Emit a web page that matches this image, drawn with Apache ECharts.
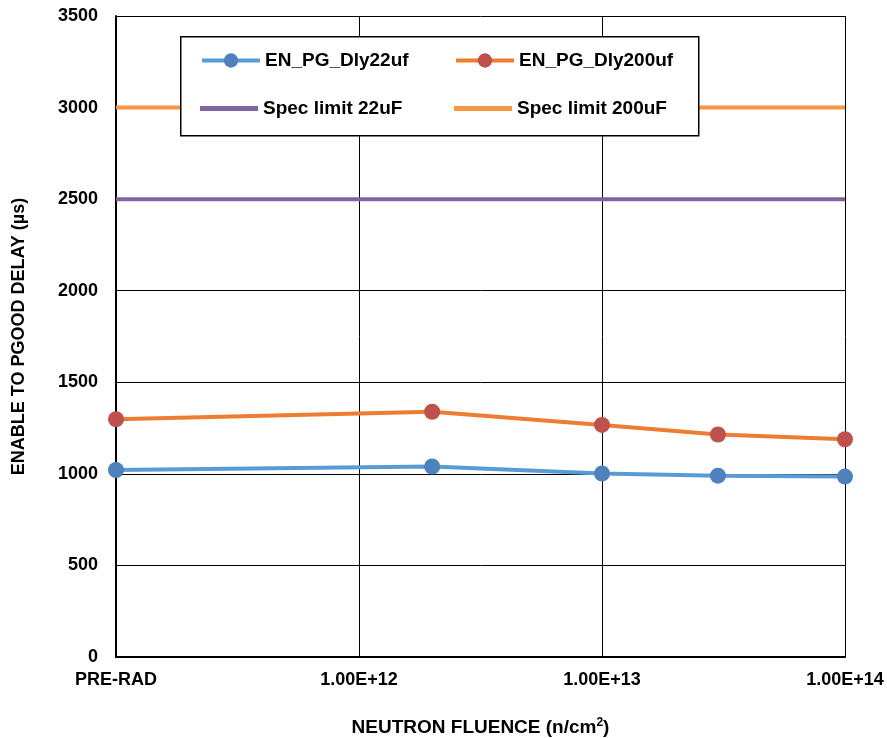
<!DOCTYPE html>
<html>
<head>
<meta charset="utf-8">
<script src="https://cdn.jsdelivr.net/npm/echarts@6/dist/echarts.min.js"></script>
<style>html,body{margin:0;padding:0;background:#fff}#c{width:887px;height:738px}</style>
</head>
<body>
<div id="c"></div>
<script>
var fluence = [1e11, 2e12, 1e13, 3e13, 1e14];
var dly22 = [1021, 1040, 1002, 990, 985];
var dly200 = [1298, 1339, 1267, 1215, 1189];
var specX = [1e11, 1e14];
var spec22 = [2500, 2500];
var spec200 = [3000, 3000];
var yTicks = [0, 500, 1000, 1500, 2000, 2500, 3000, 3500];
var seriesNames = ['EN_PG_Dly22uf', 'EN_PG_Dly200uf', 'Spec limit 22uF', 'Spec limit 200uF'];

var font = 'Liberation Sans, Arial, sans-serif';
function pairs(xs, ys) { return xs.map(function (x, i) { return [x, ys[i]]; }); }
function xLabel(v) {
  var e = Math.round(Math.log10(v));
  if (e === 11) return 'PRE-RAD';
  return '1.00E+' + e;
}
var legendPos = [
  {left: 200, top: 51, h: 18, icon: null},
  {left: 454, top: 51, h: 18, icon: null},
  {left: 200, top: 99, h: 5, icon: 'rect'},
  {left: 454, top: 99, h: 5, icon: 'rect'}
];
var chart = echarts.init(document.getElementById('c'));
chart.setOption({
  animation: false,
  backgroundColor: '#fff',
  grid: {left: 116, right: 42, top: 16, bottom: 81, containLabel: false, outerBoundsMode: 'none'},
  graphic: [{
    type: 'rect', z: 3, left: 180, top: 36,
    shape: {width: 518, height: 99},
    style: {fill: '#fff', stroke: '#000', lineWidth: 1.5}
  }],
  legend: seriesNames.map(function (n, i) {
    var p = legendPos[i];
    var d = {name: n};
    if (p.icon) d.icon = p.icon;
    return {
      data: [d], left: p.left, top: p.top, z: 5, padding: 0,
      itemWidth: 58, itemHeight: p.h, itemGap: 5,
      lineStyle: {width: 4},
      textStyle: {fontFamily: font, fontWeight: 'bold', fontSize: 19, color: '#000'}
    };
  }),
  xAxis: {
    type: 'log', logBase: 10, min: 1e11, max: 1e14,
    name: 'NEUTRON FLUENCE (n/cm{sup|2})', nameLocation: 'middle', nameGap: 60,
    nameTextStyle: {fontFamily: font, fontWeight: 'bold', fontSize: 19, color: '#000',
      rich: {sup: {fontFamily: font, fontWeight: 'bold', fontSize: 12, verticalAlign: 'top', padding: [0, 0, 9, 0]}}},
    axisLine: {lineStyle: {color: '#000', width: 2}},
    axisTick: {show: false},
    minorTick: {show: false},
    splitLine: {show: true, lineStyle: {color: '#000', width: 1}},
    axisLabel: {formatter: xLabel, margin: 14, fontFamily: font, fontWeight: 'bold', fontSize: 18, color: '#000', showMaxLabel: true, showMinLabel: true}
  },
  yAxis: {
    type: 'value', min: yTicks[0], max: yTicks[yTicks.length - 1], interval: 500,
    name: 'ENABLE TO PGOOD DELAY (µs)', nameLocation: 'middle', nameGap: 88,
    nameTextStyle: {fontFamily: font, fontWeight: 'bold', fontSize: 18, color: '#000'},
    axisLine: {show: true, lineStyle: {color: '#000', width: 2}},
    axisTick: {show: false},
    splitLine: {show: true, lineStyle: {color: '#000', width: 1}},
    axisLabel: {margin: 18, formatter: function (v) { return String(v); }, fontFamily: font, fontWeight: 'bold', fontSize: 18, color: '#000'}
  },
  series: [
    {name: seriesNames[0], type: 'line', data: pairs(fluence, dly22), symbol: 'circle', symbolSize: 16,
      lineStyle: {color: '#5B9BD5', width: 4}, itemStyle: {color: '#4F81BD'}, z: 4},
    {name: seriesNames[1], type: 'line', data: pairs(fluence, dly200), symbol: 'circle', symbolSize: 16,
      lineStyle: {color: '#ED7D31', width: 4}, itemStyle: {color: '#C0504D'}, z: 4},
    {name: seriesNames[2], type: 'line', data: pairs(specX, spec22), symbol: 'none',
      lineStyle: {color: '#8064A2', width: 4}, itemStyle: {color: '#8064A2'}, z: 2},
    {name: seriesNames[3], type: 'line', data: pairs(specX, spec200), symbol: 'none',
      lineStyle: {color: '#F79646', width: 4}, itemStyle: {color: '#F79646'}, z: 2}
  ]
});
</script>
</body>
</html>
